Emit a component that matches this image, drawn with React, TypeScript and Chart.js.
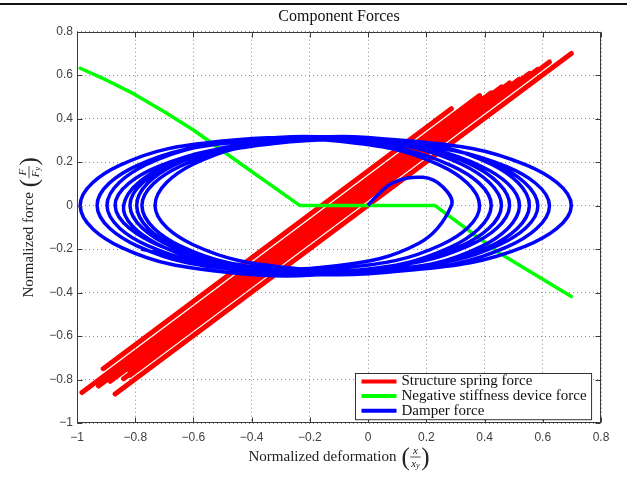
import React, { useEffect, useRef } from "react";
import { Chart, registerables } from "chart.js";

Chart.register(...registerables);

// ---- axis ticks ----
const xTickValues = [-1, -0.8, -0.6, -0.4, -0.2, 0, 0.2, 0.4, 0.6, 0.8];
const xTickLabels = ["\u22121", "\u22120.8", "\u22120.6", "\u22120.4", "\u22120.2", "0", "0.2", "0.4", "0.6", "0.8"];
const yTickValues = [-1, -0.8, -0.6, -0.4, -0.2, 0, 0.2, 0.4, 0.6, 0.8];
const yTickLabels = ["\u22121", "\u22120.8", "\u22120.6", "\u22120.4", "\u22120.2", "0", "0.2", "0.4", "0.6", "0.8"];

const seriesLabels = ["Structure spring force", "Negative stiffness device force", "Damper force"];

// ---- Structure spring force (red): parallel branches, lower-left end -> upper-right end ----
const redBottomX = [-0.869, -0.818, -0.84, -0.8, -0.82, -0.886, -0.86, -0.926, -0.78, -0.983, -0.91];
const redBottomY = [-0.867, -0.78, -0.796, -0.746, -0.758, -0.808, -0.772, -0.83, -0.67, -0.86, -0.75];
const redTopX = [0.698, 0.623, 0.583, 0.554, 0.52, 0.486, 0.458, 0.423, 0.383, 0.383, 0.286];
const redTopY = [0.7, 0.661, 0.627, 0.608, 0.582, 0.564, 0.546, 0.519, 0.493, 0.506, 0.446];

// ---- Negative stiffness device force (green) ----
const greenX = [-0.989, -0.9, -0.806, -0.7, -0.6, -0.451, -0.234, 0.23, 0.452, 0.698];
const greenY = [0.632, 0.578, 0.515, 0.432, 0.348, 0.205, 0.0, 0.0, -0.219, -0.418];

// ---- Damper force (blue) ----
const blueX = [
  0, 0.03, 0.085, 0.188, 0.256, 0.286,
  0.173, -0.108, -0.446, -0.727, -0.84,
  -0.686, -0.302, 0.16, 0.544, 0.698,
  0.541, 0.15, -0.321, -0.712, -0.869,
  -0.72, -0.347, 0.101, 0.474, 0.623,
  0.479, 0.119, -0.314, -0.674, -0.818,
  -0.678, -0.328, 0.093, 0.443, 0.583,
  0.451, 0.123, -0.272, -0.601, -0.732,
  -0.603, -0.282, 0.104, 0.425, 0.554,
  0.421, 0.088, -0.311, -0.644, -0.777,
  -0.647, -0.323, 0.066, 0.39, 0.52,
  0.388, 0.06, -0.335, -0.664, -0.795,
  -0.667, -0.347, 0.038, 0.358, 0.486,
  0.348, 0.002, -0.413, -0.759, -0.897,
  -0.761, -0.423, -0.016, 0.323, 0.458,
  0.319, -0.028, -0.445, -0.792, -0.931,
  -0.796, -0.457, -0.051, 0.288, 0.423,
  0.282, -0.071, -0.495, -0.848, -0.989,
  -0.852, -0.509, -0.097, 0.246, 0.383,
  0.252, -0.077, -0.47, -0.78,
];
const blueY = [
  0, 0.045, 0.105, 0.13, 0.087, 0,
  -0.174, -0.277, -0.277, -0.174, 0,
  0.186, 0.296, 0.296, 0.186, 0,
  -0.186, -0.296, -0.296, -0.186, 0,
  0.18, 0.286, 0.286, 0.18, 0,
  -0.189, -0.3, -0.3, -0.189, 0,
  0.186, 0.296, 0.296, 0.186, 0,
  -0.18, -0.286, -0.286, -0.18, 0,
  0.189, 0.3, 0.3, 0.189, 0,
  -0.186, -0.296, -0.296, -0.186, 0,
  0.18, 0.286, 0.286, 0.18, 0,
  -0.189, -0.3, -0.3, -0.189, 0,
  0.186, 0.296, 0.296, 0.186, 0,
  -0.183, -0.291, -0.291, -0.183, 0,
  0.189, 0.3, 0.3, 0.189, 0,
  -0.186, -0.296, -0.296, -0.186, 0,
  0.183, 0.291, 0.291, 0.183, 0,
  -0.192, -0.305, -0.305, -0.192, 0,
  0.186, 0.296, 0.296, 0.186, 0,
  -0.18, -0.286, -0.286, -0.2,
];

const zip = (xs: number[], ys: number[]) => xs.map((x, i) => ({ x, y: ys[i] }));

// segments separated by a gap point so the line breaks between branches
const segments = (x1: number[], y1: number[], x2: number[], y2: number[]) => {
  const out: any[] = [];
  x1.forEach((_, i) => {
    out.push({ x: x1[i], y: y1[i] }, { x: x2[i], y: y2[i] }, { x: x2[i], y: null });
  });
  return out;
};

const SERIF = '"Liberation Serif", "DejaVu Serif", serif';
const SANS = '"Liberation Sans", Arial, sans-serif';

function drawMathLabel(ctx: CanvasRenderingContext2D, cx: number, cy: number, text: string, num: string, den: string, sub: string) {
  ctx.save();
  ctx.fillStyle = "#222";
  ctx.strokeStyle = "#222";
  ctx.textBaseline = "middle";
  ctx.textAlign = "left";
  const mainFont = `15px ${SERIF}`;
  const fracFont = `italic 11px ${SERIF}`;
  const subFont = `italic 8px ${SERIF}`;
  const parenFont = `25px ${SERIF}`;
  ctx.font = mainFont;
  const w1 = ctx.measureText(text).width;
  ctx.font = fracFont;
  const nw = ctx.measureText(num).width;
  const dw0 = ctx.measureText(den).width;
  ctx.font = subFont;
  const sw = ctx.measureText(sub).width;
  const dw = dw0 + sw;
  const fw = Math.max(nw, dw) + 3;
  ctx.font = parenFont;
  const pw = ctx.measureText("(").width;
  const gap = 5;
  const total = w1 + gap + pw + fw + pw;
  const x0 = cx - total / 2;
  ctx.font = mainFont;
  ctx.fillText(text, x0, cy);
  const px = x0 + w1 + gap;
  ctx.font = parenFont;
  ctx.fillText("(", px, cy + 1);
  const fx = px + pw;
  const fcx = fx + fw / 2;
  ctx.font = fracFont;
  ctx.textAlign = "center";
  ctx.fillText(num, fcx, cy - 6);
  ctx.beginPath();
  ctx.moveTo(fx + 0.5, cy);
  ctx.lineTo(fx + fw - 0.5, cy);
  ctx.lineWidth = 0.8;
  ctx.stroke();
  ctx.textAlign = "left";
  const dx = fcx - dw / 2;
  ctx.fillText(den, dx, cy + 7);
  ctx.font = subFont;
  ctx.fillText(sub, dx + dw0, cy + 9);
  ctx.font = parenFont;
  ctx.fillText(")", fx + fw, cy + 1);
  ctx.restore();
}

const decorPlugin = {
  id: "decor",
  afterDatasetsDraw(chart: any) {
    const { ctx, chartArea: a, scales } = chart;
    const xs = scales.x;
    const ys = scales.y;
    ctx.save();
    ctx.strokeStyle = "#3a3a3a";
    ctx.lineWidth = 1;
    const L = Math.round(a.left) + 0.5;
    const R = Math.round(a.right) - 0.5;
    const T = Math.round(a.top) + 0.5;
    const B = Math.round(a.bottom) - 0.5;
    ctx.strokeRect(L, T, R - L, B - T);
    ctx.beginPath();
    for (const v of xTickValues) {
      const p = Math.round(xs.getPixelForValue(v)) + 0.5;
      ctx.moveTo(p, B);
      ctx.lineTo(p, B - 5);
      ctx.moveTo(p, T);
      ctx.lineTo(p, T + 5);
    }
    for (const v of yTickValues) {
      const p = Math.round(ys.getPixelForValue(v)) + 0.5;
      ctx.moveTo(L, p);
      ctx.lineTo(L + 5, p);
      ctx.moveTo(R, p);
      ctx.lineTo(R - 5, p);
    }
    ctx.stroke();
    ctx.restore();
  },
  afterDraw(chart: any) {
    const { ctx, chartArea: a } = chart;
    // axis titles
    drawMathLabel(ctx, (a.left + a.right) / 2, 457, "Normalized deformation", "x", "x", "y");
    ctx.save();
    ctx.translate(29, (a.top + a.bottom) / 2);
    ctx.rotate(-Math.PI / 2);
    drawMathLabel(ctx, 0, 0, "Normalized force", "F", "F", "y");
    ctx.restore();

    // legend box (bottom-right inside axes)
    const ds = chart.data.datasets;
    ctx.save();
    ctx.font = `15px ${SERIF}`;
    let maxW = 0;
    ds.forEach((d: any) => { maxW = Math.max(maxW, ctx.measureText(d.label).width); });
    const rowH = 14.6;
    const lineLen = 35;
    const padL = 6, padR = 5, padT = 7;
    const boxW = padL + lineLen + 5 + maxW + padR;
    const boxH = padT * 2 + rowH * (ds.length - 1) + 3;
    const bx = Math.round(a.right - 10 - boxW) + 0.5;
    const by = Math.round(a.bottom - 4 - boxH) + 0.5;
    ctx.fillStyle = "#fff";
    ctx.fillRect(bx, by, boxW, boxH);
    ctx.strokeStyle = "#333";
    ctx.lineWidth = 1;
    ctx.strokeRect(bx, by, boxW, boxH);
    ds.forEach((d: any, i: number) => {
      const yy = by + padT + 1 + i * rowH;
      ctx.beginPath();
      ctx.moveTo(bx + padL, yy);
      ctx.lineTo(bx + padL + lineLen, yy);
      ctx.strokeStyle = d.borderColor;
      ctx.lineWidth = 4;
      ctx.stroke();
      ctx.fillStyle = "#111";
      ctx.textBaseline = "middle";
      ctx.textAlign = "left";
      ctx.fillText(d.label, bx + padL + lineLen + 5, yy);
    });
    ctx.restore();
  },
};

export default function App() {
  const ref = useRef<HTMLCanvasElement | null>(null);
  useEffect(() => {
    if (!ref.current) return;
    const tickFont = { family: SANS, size: 12 };
    const chart = new Chart(ref.current, {
      type: "scatter",
      data: {
        datasets: [
          {
            label: seriesLabels[0],
            data: segments(redBottomX, redBottomY, redTopX, redTopY),
            showLine: true,
            spanGaps: false,
            borderColor: "#ff0000",
            backgroundColor: "#ff0000",
            borderWidth: 5,
            pointRadius: 0,
            tension: 0,
            borderCapStyle: "round",
            borderJoinStyle: "round",
            order: 3,
          },
          {
            label: seriesLabels[1],
            data: zip(greenX, greenY),
            showLine: true,
            borderColor: "#00ff00",
            backgroundColor: "#00ff00",
            borderWidth: 3.5,
            pointRadius: 0,
            tension: 0,
            borderCapStyle: "round",
            borderJoinStyle: "round",
            order: 2,
          },
          {
            label: seriesLabels[2],
            data: zip(blueX, blueY),
            showLine: true,
            borderColor: "#0000ff",
            backgroundColor: "#0000ff",
            borderWidth: 3.5,
            pointRadius: 0,
            tension: 0.4,
            borderCapStyle: "butt",
            borderJoinStyle: "round",
            order: 1,
          },
        ],
      } as any,
      options: {
        responsive: false,
        animation: false,
        devicePixelRatio: 1,
        layout: { padding: { left: 0, right: 34, top: 0, bottom: 0 } },
        plugins: {
          legend: { display: false },
          tooltip: { enabled: false },
          title: {
            display: true,
            text: "Component Forces",
            fullSize: false,
            font: { family: SERIF, size: 16, weight: "normal" },
            color: "#111",
            padding: { top: 7, bottom: 5.5 },
          },
        },
        scales: {
          x: {
            type: "linear",
            min: -1,
            max: 0.8,
            afterBuildTicks: (s: any) => { s.ticks = xTickValues.map((v) => ({ value: v })); },
            afterFit: (s: any) => { s.height = 67; },
            grid: { color: "rgba(0,0,0,0.45)", drawTicks: false, lineWidth: 1 },
            border: { display: false, dash: [1, 3] },
            ticks: {
              padding: 7,
              autoSkip: false,
              maxRotation: 0,
              font: tickFont,
              color: "#404040",
              callback: (_v: any, i: number) => xTickLabels[i],
            },
          },
          y: {
            type: "linear",
            min: -1,
            max: 0.8,
            afterBuildTicks: (s: any) => { s.ticks = yTickValues.map((v) => ({ value: v })); },
            afterFit: (s: any) => { s.width = 77; },
            grid: { color: "rgba(0,0,0,0.45)", drawTicks: false, lineWidth: 1 },
            border: { display: false, dash: [1, 3] },
            ticks: {
              padding: 4,
              autoSkip: false,
              font: tickFont,
              color: "#404040",
              callback: (_v: any, i: number) => yTickLabels[i],
            },
          },
        },
      } as any,
      plugins: [decorPlugin],
    });
    return () => chart.destroy();
  }, []);

  return (
    <div style={{ position: "absolute", left: 0, top: 0, width: 635, height: 490, background: "#fff", overflow: "hidden" }}>
      <div style={{ position: "absolute", left: 0, top: 3, width: 627, height: 2, background: "#111" }} />
      <canvas ref={ref} width={635} height={490} style={{ position: "absolute", left: 0, top: 0, width: 635, height: 490 }} />
    </div>
  );
}
